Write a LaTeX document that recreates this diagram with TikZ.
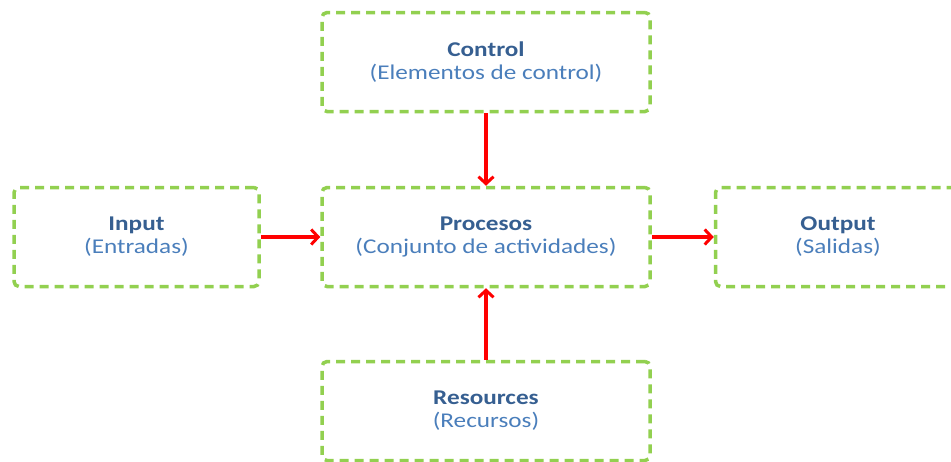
\documentclass[tikz,border=0pt]{standalone}
\usepackage{fontspec}
\setmainfont{Carlito}
\usetikzlibrary{arrows.meta}
\definecolor{boxgreen}{HTML}{92D050}
\definecolor{titleblue}{HTML}{365F91}
\definecolor{subblue}{HTML}{4A7EBB}
\newcommand{\boxtext}[2]{\scalebox{1.2}[1]{\textcolor{titleblue}{\textbf{#1}}}\\\scalebox{1.2}[1]{\textcolor{subblue}{#2}}}
\begin{document}
\begin{tikzpicture}[x=1pt,y=-1pt,thick,
    main node/.style={draw=boxgreen,line width=3.5pt,dash pattern=on 9pt off 6pt,rounded corners=5pt,
      minimum height=99pt,align=center,font=\fontsize{21}{23}\selectfont,inner sep=0pt},
    wide node/.style={main node,minimum width=328pt},
    side node/.style={main node,minimum width=245pt},
    flow/.style={draw=red,line width=3.2pt,-{Straight Barb[length=7pt,width=15pt,line width=3pt]}}]
  \useasboundingbox (0,0) rectangle (951,461);
  \node[wide node] (control) at (486,62) {\boxtext{Control}{(Elementos de control)}};
  \node[wide node] (procesos) at (486,237) {\boxtext{Procesos}{(Conjunto de actividades)}};
  \node[side node] (input) at (136.5,237) {\boxtext{Input}{(Entradas)}};
  \node[side node] (output) at (838,237) {\boxtext{Output}{(Salidas)}};
  \node[wide node] (resources) at (486,411) {\boxtext{Resources}{(Recursos)}};
  % connectors
  \path[flow] (control) -- (procesos);
  \path[flow] (input) -- (procesos);
  \path[flow] (procesos) -- (output);
  \path[flow] (resources) -- (procesos);
\end{tikzpicture}
\end{document}
